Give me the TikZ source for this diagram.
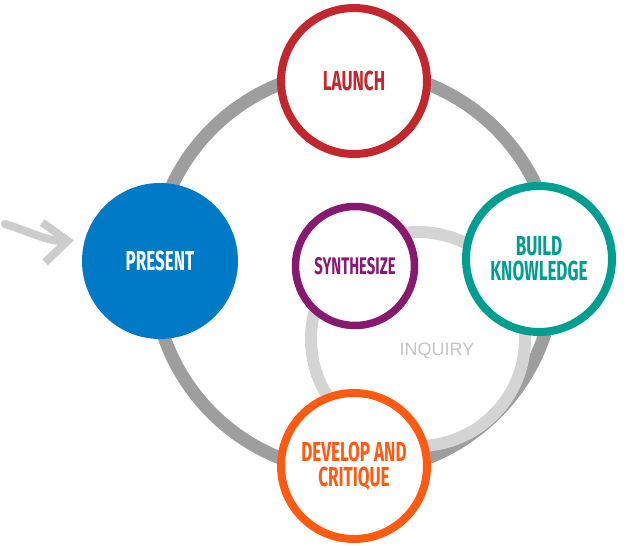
\documentclass[tikz,border=0pt]{standalone}
\usepackage{fontspec}
\usepackage{xcolor}
\usepackage{tikz}
\usetikzlibrary{arrows.meta}
\setmainfont{Liberation Sans}
\newfontfamily\condfont[FakeStretch=0.62]{Fira Sans}

\definecolor{launchred}{HTML}{C1272D}
\definecolor{buildteal}{HTML}{009D91}
\definecolor{developorange}{HTML}{FF5A12}
\definecolor{synthpurple}{HTML}{87196E}
\definecolor{presentblue}{HTML}{0079C6}
\definecolor{ringgray}{HTML}{9E9E9E}
\definecolor{inqgray}{HTML}{D4D4D4}
\definecolor{textgray}{HTML}{C4C4C4}
\definecolor{arrowgray}{HTML}{CCCCCC}

\tikzset{
  stage/.style={circle, draw, line width=8pt, fill=white, minimum size=146pt,
    inner sep=0pt, align=center, font=\condfont\bfseries\fontsize{27.5}{25}\selectfont},
}

\begin{document}
\begin{tikzpicture}[x=1pt, y=-1pt]
\useasboundingbox (0,0) rectangle (635,546);

\draw[ringgray, line width=13pt] (354,271) circle [radius=201];
\draw[inqgray, line width=12pt] (418,339) circle [radius=107];

\node[stage, draw=launchred, text=launchred] (launch) at (354,81) {LAUNCH};
\node[stage, draw=none, fill=presentblue, text=white, minimum size=156pt] (present) at (160,261) {PRESENT};
\node[stage, draw=buildteal, text=buildteal] (build) at (539,259) {BUILD\\KNOWLEDGE};
\node[stage, draw=developorange, text=developorange] (develop) at (354,466) {DEVELOP AND\\CRITIQUE};

\node[stage, draw=synthpurple, text=synthpurple, line width=7.5pt, minimum size=119pt,
  font=\condfont\bfseries\fontsize{24}{24}\selectfont] (synth) at (355,266) {SYNTHESIZE};

\node[text=textgray, font=\fontsize{18}{20}\selectfont] (inquiry) at (437,351) {INQUIRY};

\coordinate (tail) at (5,224);
\draw[arrowgray, line width=8pt, line cap=round, shorten >=7pt,
  -{Straight Barb[length=24pt, width=40pt]}] (tail) .. controls (30,232) and (50,242) .. (present.165);
\end{tikzpicture}
\end{document}
